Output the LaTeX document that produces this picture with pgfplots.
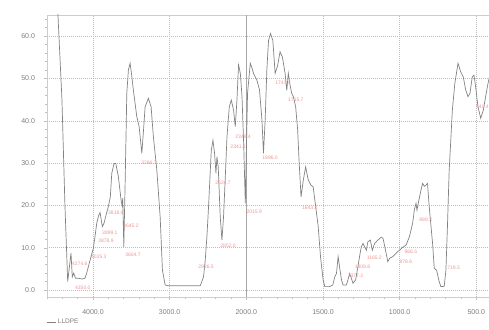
\documentclass[border=0pt]{standalone}
\usepackage{fontspec}
\setmainfont{Liberation Sans}
\usepackage{pgfplots}
\pgfplotsset{compat=1.18}
\definecolor{specgray}{RGB}{130,130,130}
\definecolor{gridgray}{RGB}{190,190,190}
\definecolor{framegray}{RGB}{205,205,205}
\definecolor{txtgray}{RGB}{125,125,125}
\definecolor{pk}{RGB}{238,150,150}
\begin{document}
\begin{tikzpicture}[pl/.style={font=\fontsize{5}{5}\selectfont, text=pk, inner sep=0pt, anchor=west}]
\begin{axis}[
  scale only axis, width=444.6pt, height=282pt,
  x coord trafo/.code={\pgfmathparse{#1>2000 ? (2000-#1)/2 : 2000-#1}},
  xmin=4600, xmax=400, ymin=-1.65, ymax=65,
  xtick={4000,3000,2000,1500,1000,500},
  xticklabels={4000.0,3000.0,2000.0,1500.0,1000.0,500.0},
  minor xtick={4600,4400,4200,3800,3600,3400,3200,2800,2600,2400,2200,1900,1800,1700,1600,1400,1300,1200,1100,900,800,700,600,400},
  ytick={0,10,20,30,40,50,60},
  yticklabels={0.0,10.0,20.0,30.0,40.0,50.0,60.0},
  minor ytick={-0,2,4,6,8,12,14,16,18,22,24,26,28,32,34,36,38,42,44,46,48,52,54,56,58,62,64},
  xtick pos=bottom, ytick pos=left,
  tick align=outside,
  major tick length=3pt, minor tick length=2pt,
  every tick/.style={gridgray, line width=0.4pt},
  axis line style={framegray, line width=0.6pt},
  xmajorgrids, ymajorgrids,
  major grid style={gridgray, line width=0.5pt, dash pattern=on 1pt off 1pt},
  tick label style={font=\fontsize{7}{7}\selectfont, text=txtgray},
  yticklabel style={xshift=-5.5pt},
  xticklabel style={yshift=-6pt},
  legend style={at={(rel axis cs:0,0)}, anchor=north west, xshift=-1pt, yshift=-20pt,
    draw=none, fill=none, inner sep=0pt, font=\fontsize{6.5}{6.5}\selectfont, text=txtgray},
  legend image code/.code={\draw[#1] (0pt,0pt) -- (9pt,0pt);},
  legend cell align=left,
]
\coordinate (BL) at (rel axis cs:0,0);
\draw[color=gray!70, line width=0.6pt] ({axis cs:2000,0}|-{rel axis cs:0,0}) -- ({axis cs:2000,0}|-{rel axis cs:0,1});
\addplot[specgray, line width=0.7pt] coordinates {
(4470,70) (4405,45) (4366,20) (4330,2) (4287,8.7) (4270,3.1) (4252,4.0) (4228,2.8)
(4192,2.8) (4143,2.6) (4104,2.8) (4082,4.0) (4039,7.0) (3996,9.8) (3974,12.6) (3951,15.8)
(3928,17.5) (3908,18.3) (3878,15.0) (3856,15.8) (3830,17.7) (3800,19.7) (3774,22.0) (3755,27.6)
(3725,29.9) (3703,29.9) (3669,26.8) (3634,21.3) (3621,20.0) (3612,21.7) (3598,10.2) (3581,25.0)
(3559,46.5) (3538,52.0) (3516,53.6) (3497,51.0) (3473,47.2) (3429,41.0) (3398,38.6) (3363,32.3)
(3340,38.0) (3320,43.3) (3277,45.3) (3242,43.3) (3212,36.2) (3167,28.3) (3124,17.3) (3094,4.7)
(3059,1.2) (3019,1.0) (2601,1.0) (2558,3.1) (2536,7.0) (2514,12.6) (2493,19.5) (2457,33.0)
(2435,35.4) (2414,32.3) (2396,27.6) (2383,31.5) (2366,29.0) (2340,17.3) (2318,11.8) (2297,17.3)
(2274,26.8) (2252,36.2) (2222,43.3) (2196,44.9) (2166,42.5) (2144,38.6) (2122,44.9) (2101,53.2)
(2078,51.2) (2056,45.7) (2035,35.0) (2013,20.5) (1992,46.5) (1974,53.6) (1963,52.5) (1953,51.2)
(1931,49.6) (1914,47.3) (1898,40.2) (1888,32.3) (1877,40.2) (1866,52.0) (1855,59.0) (1842,60.6)
(1827,59.0) (1812,51.2) (1796,53.0) (1780,56.3) (1765,55.1) (1747,51.2) (1736,47.2) (1726,51.2)
(1715,48.5) (1704,46.5) (1693,45.7) (1678,43.3) (1665,37.8) (1656,30.7) (1643,22.0) (1628,26.0)
(1613,29.1) (1596,26.0) (1578,24.8) (1564,24.4) (1553,21.3) (1531,15.0) (1516,7.9) (1499,2.4)
(1488,0.8) (1456,0.8) (1436,1.2) (1423,3.1) (1412,3.9) (1401,7.9) (1390,5.0) (1379,2.4)
(1369,1.2) (1347,1.2) (1337,2.4) (1326,3.9) (1315,2.8) (1304,1.6) (1287,2.4) (1272,5.5)
(1261,8.0) (1250,10.2) (1239,11.0) (1228,10.2) (1217,9.4) (1207,11.4) (1191,11.8) (1178,9.4)
(1163,11.0) (1142,11.8) (1120,12.5) (1108,12.2) (1092,9.4) (1077,6.7) (1066,7.5) (1045,7.9)
(1034,8.3) (1012,9.1) (1001,9.4) (980,10.1) (958,10.6) (936,12.6) (915,15.8) (904,18.9)
(893,20.5) (887,18.9) (876,20.9) (861,23.6) (850,25.2) (839,24.5) (828,24.8) (818,25.2)
(807,19.7) (785,11.0) (774,5.1) (759,4.7) (742,2.0) (731,0.8) (709,0.9) (698,4.7)
(688,15.0) (677,28.0) (656,42.5) (640,48.8) (619,53.6) (602,51.6) (585,50.4) (569,47.3)
(554,45.7) (541,46.5) (526,50.4) (515,50.8) (504,48.0) (489,43.3) (471,40.6) (454,42.5)
(428,48.0) (405,52.0)
};
\addlegendentry{LLDPE}
% peak labels
\node[pl] at (axis cs:4235,0.5) {4350.0};
\node[pl] at (axis cs:4274,6.1) {4274.6};
\node[pl] at (axis cs:4026,7.8) {4025.3};
\node[pl] at (axis cs:3934,11.6) {3878.9};
\node[pl] at (axis cs:3882,13.5) {3899.1};
\node[pl] at (axis cs:3804,18.2) {3818.8};
\node[pl] at (axis cs:3608,15.1) {3645.2};
\node[pl] at (axis cs:3581,8.3) {3604.7};
\node[pl] at (axis cs:3372,30.0) {3266.7};
\node[pl] at (axis cs:2627,5.4) {2926.5};
\node[pl] at (axis cs:2340,10.4) {2852.0};
\node[pl] at (axis cs:2405,25.3) {2624.7};
\node[pl] at (axis cs:2144,36.1) {2349.4};
\node[pl] at (axis cs:2209,33.8) {2341.5};
\node[pl] at (axis cs:2000,18.4) {2015.9};
\node[pl] at (axis cs:1896,31.2) {1896.0};
\node[pl] at (axis cs:1812,48.9) {1743.4};
\node[pl] at (axis cs:1728,44.9) {1715.7};
\node[pl] at (axis cs:1637,19.4) {1643.2};
\node[pl] at (axis cs:1339,3.3) {1377.2};
\node[pl] at (axis cs:1293,5.4) {1309.8};
\node[pl] at (axis cs:1215,7.7) {1165.2};
\node[pl] at (axis cs:969,9.0) {966.5};
\node[pl] at (axis cs:1001,6.6) {978.6};
\node[pl] at (axis cs:872,16.5) {889.3};
\node[pl] at (axis cs:690,5.2) {719.5};
\node[pl] at (axis cs:502,43.2) {541.4};
% axis titles
\node[anchor=east, font=\fontsize{6.5}{6.5}\selectfont, text=txtgray, inner sep=0pt] at ([xshift=-14pt]rel axis cs:0,0.85) {\%T};
\node[anchor=east, font=\fontsize{6.5}{6.5}\selectfont, text=txtgray, inner sep=0pt] at ([yshift=-23pt]rel axis cs:0.994,0) {1/cm};
\end{axis}
\pgfresetboundingbox
\path (BL) ++(-47pt,-32pt) rectangle ++(489pt,329pt);
\end{tikzpicture}
\end{document}
